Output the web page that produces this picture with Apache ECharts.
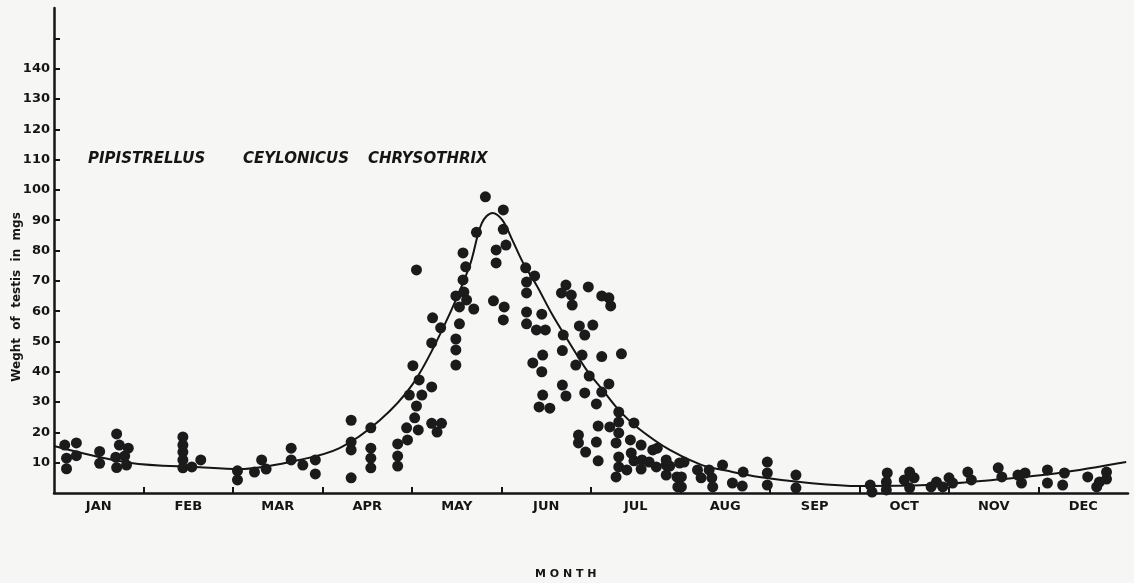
<!DOCTYPE html>
<html>
<head>
<meta charset="utf-8">
<script src="https://cdn.jsdelivr.net/npm/echarts@6/dist/echarts.min.js"></script>
<style>
  html, body { margin: 0; padding: 0; background: #f6f6f5; }
  #main { width: 1134px; height: 583px; }
</style>
</head>
<body>
<div id="main"></div>
<script>
// month labels (one per band on the x axis)
var months = ['JAN', 'FEB', 'MAR', 'APR', 'MAY', 'JUN', 'JUL', 'AUG', 'SEP', 'OCT', 'NOV', 'DEC'];

// fitted curve, x in months from 1 Jan (0..12), y = weight in mgs
var curveMonth  = [0, 0.84, 1.63, 2.07, 2.74, 3.19, 3.64, 4.01, 4.34, 4.64, 4.78, 4.9, 5.01, 5.12, 5.24, 5.39, 5.57, 5.76, 5.95, 6.13, 6.31, 6.51, 6.88, 7.24, 7.51, 7.88, 8.44, 9.0, 9.75, 10.49, 11.23, 11.98];
var curveWeight = [15.5, 10, 8.5, 7.9, 10.9, 14.8, 24, 36, 54, 74.6, 89, 92.4, 90, 83.5, 76, 68.6, 58.7, 49.5, 40.6, 34, 27.4, 21.8, 14.2, 9.2, 7.4, 5.3, 3.3, 2.3, 2.6, 4.3, 6.6, 10.2];

// individual specimens
var dotMonth = [
  // jan
  0.12, 0.14, 0.14, 0.25, 0.25, 0.51, 0.51, 0.70, 0.73, 0.83, 0.69, 0.79, 0.70, 0.81,
  // feb
  1.44, 1.44, 1.44, 1.44, 1.44, 1.54, 1.64,
  // mar
  2.05, 2.05, 2.24, 2.32, 2.37, 2.65, 2.65, 2.78, 2.92, 2.92,
  // apr
  3.32, 3.32, 3.32, 3.32, 3.54, 3.54, 3.54, 3.54, 3.84, 3.84, 3.84, 3.95, 3.94, 4.07,
  // may
  4.22, 4.49, 4.49, 4.49, 4.01, 4.08, 4.22, 3.97, 4.11, 4.05, 4.03, 4.22, 4.33, 4.28,
  4.05, 4.82, 5.02, 4.72, 5.02, 4.94, 5.05, 4.94, 4.57, 4.60, 4.57, 4.49, 4.58, 4.61,
  4.53, 4.69, 4.23, 4.32, 4.53, 4.91, 5.03, 5.02,
  // jun
  5.27, 5.37, 5.28, 5.28, 5.28, 5.45, 5.28, 5.39, 5.49, 5.69, 5.67, 5.72, 5.78, 5.79,
  5.97, 6.12, 6.20, 6.22, 5.87, 6.02, 5.93, 5.68,
  5.46, 5.35, 5.45, 5.90, 6.12, 6.34, 5.83, 5.98, 5.68, 5.72, 5.46, 5.42, 5.54, 5.93,
  6.12, 6.20, 6.06, 6.31, 6.31, 6.48, 6.08, 6.21, 6.31, 5.86, 5.86, 5.94, 6.06, 6.08,
  // jul
  6.28, 6.44, 6.56, 6.31, 6.45, 6.48, 6.57, 6.69, 6.74, 6.65, 6.73, 6.31, 6.28, 6.40,
  6.56, 6.84, 6.84, 6.96, 6.97,
  // aug
  6.84, 6.88, 6.99, 7.04, 7.01, 7.01, 7.19, 7.23, 7.32, 7.35, 7.36, 7.47, 7.58, 7.69,
  7.70, 7.97, 7.97, 7.97,
  // sep
  8.29, 8.29,
  // oct
  9.12, 9.14, 9.31, 9.30, 9.30, 9.50, 9.56, 9.61, 9.56, 9.80, 9.86, 9.93, 10.00, 10.04,
  10.21, 10.25,
  // nov
  10.55, 10.59, 10.77, 10.85, 10.81, 11.10, 11.10, 11.29, 11.27,
  // dec
  11.55, 11.68, 11.65, 11.76, 11.76
];
var dotWeight = [
  15.8, 11.5, 8.0, 16.5, 12.3, 13.7, 9.8, 19.5, 15.8, 14.8, 11.8, 12.2, 8.4, 9.2,
  18.5, 15.8, 13.5, 10.9, 8.3, 8.6, 10.9,
  7.3, 4.3, 6.9, 10.9, 7.9, 14.8, 10.9, 9.2, 10.9, 6.3,
  24, 16.8, 14.2, 5, 21.5, 14.8, 11.5, 8.3, 16.2, 12.2, 8.9, 17.5, 21.5, 20.8,
  49.5, 50.8, 47.2, 42.2, 42, 37.3, 35, 32.3, 32.3, 28.7, 24.8, 23, 23, 20.1,
  73.6, 97.7, 93.4, 86, 87, 80.2, 81.8, 75.9, 79.2, 74.6, 70.3, 65, 66.3, 63.7,
  61.4, 60.7, 57.8, 54.5, 55.8, 63.4, 61.4, 57.1,
  74.3, 71.6, 69.6, 66, 59.7, 59, 55.8, 53.8, 53.8, 52.1, 66, 68.6, 65.3, 62,
  68, 65, 64.4, 61.7, 55.1, 55.4, 52.1, 47,
  45.5, 42.9, 40, 45.5, 45, 45.9, 42.2, 38.6, 35.6, 32, 32.3, 28.4, 28, 33,
  33.3, 36, 29.4, 26.7, 23.4, 23.1, 22.1, 21.8, 19.8, 19.1, 16.5, 13.5, 16.8, 10.6,
  16.5, 17.5, 15.8, 11.9, 13.2, 10.6, 10.9, 14.2, 14.8, 10.2, 8.6, 8.6, 5.3, 7.6,
  7.9, 9.2, 5.9, 5.3, 2,
  10.9, 8.9, 9.9, 10.2, 5.3, 2, 7.6, 5, 7.6, 5, 2, 9.2, 3.3, 2.3,
  6.9, 10.2, 6.6, 2.6,
  5.9, 1.7,
  2.6, 0.3, 6.6, 3.6, 1, 4.3, 6.9, 5, 1.7, 2, 3.6, 2, 5, 3.3,
  6.9, 4.3,
  8.3, 5.3, 5.9, 6.6, 3.3, 7.6, 3.3, 6.6, 2.6,
  5.3, 3.6, 2, 6.9, 4.6
];

var yTickLabels = [10, 20, 30, 40, 50, 60, 70, 80, 90, 100, 110, 120, 130, 140];
var yTicks = [10, 20, 30, 40, 50, 60, 70, 80, 90, 100, 110, 120, 130, 140, 150];
var monthTicks = [1, 2, 3, 4, 5, 6, 7, 8, 9, 10, 11];

var ink = '#151515';
var font = 'DejaVu Sans';

var curveData = curveMonth.map(function (m, i) { return [m, curveWeight[i]]; });
var dotData = dotMonth.map(function (m, i) { return [m, dotWeight[i]]; });

var myChart = echarts.init(document.getElementById('main'));

var titleStyle = { fontFamily: font, fontSize: 15, fontWeight: 'bold', fontStyle: 'italic', color: ink };

var option = {
  backgroundColor: '#f6f6f5',
  animation: false,
  title: [
    { text: 'PIPISTRELLUS', left: 88, top: 152, padding: 0, textStyle: titleStyle },
    { text: 'CEYLONICUS', left: 243, top: 152, padding: 0, textStyle: titleStyle },
    { text: 'CHRYSOTHRIX', left: 368, top: 152, padding: 0, textStyle: titleStyle },
    { text: 'M O N T H', left: 535, top: 569, padding: 0,
      textStyle: { fontFamily: font, fontSize: 11, fontWeight: 'bold', color: ink } }
  ],
  graphic: [{
    type: 'text',
    x: 17, y: 297,
    rotation: Math.PI / 2,
    style: {
      text: 'Weght  of  testis  in  mgs',
      font: 'bold 12px "DejaVu Sans"',
      fill: ink,
      align: 'center',
      verticalAlign: 'middle'
    }
  }],
  grid: { left: 54, right: 6, top: 8, bottom: 90, containLabel: false },
  xAxis: [{
    type: 'value',
    min: 0, max: 12, interval: 1,
    axisLine: { lineStyle: { color: ink, width: 2.5 } },
    axisTick: { inside: true, length: 6, customValues: monthTicks, lineStyle: { color: ink, width: 2 } },
    axisLabel: { show: false },
    splitLine: { show: false }
  }, {
    type: 'category',
    data: months,
    position: 'bottom',
    boundaryGap: true,
    axisLine: { show: false },
    axisTick: { show: false },
    axisLabel: { margin: 7, fontFamily: font, fontSize: 13, fontWeight: 'bold', color: ink },
    splitLine: { show: false }
  }],
  yAxis: {
    type: 'value',
    min: 0, max: 160, interval: 10,
    axisLine: { show: true, lineStyle: { color: ink, width: 2.5 } },
    axisTick: { show: true, inside: true, length: 6, customValues: yTicks, lineStyle: { color: ink, width: 2 } },
    axisLabel: {
      margin: 4, fontFamily: font, fontSize: 13, fontWeight: 'bold', color: ink,
      customValues: yTickLabels,
      formatter: function (v) { return yTickLabels.indexOf(v) >= 0 ? String(v) : ''; }
    },
    splitLine: { show: false }
  },
  series: [{
    name: 'curve',
    type: 'line',
    xAxisIndex: 0,
    data: curveData,
    smooth: 0.35,
    symbol: 'none',
    lineStyle: { color: ink, width: 2 },
    z: 2
  }, {
    name: 'testis',
    type: 'scatter',
    xAxisIndex: 0,
    data: dotData,
    symbolSize: 11,
    itemStyle: { color: '#1b1b1b', opacity: 1 },
    z: 3
  }]
};

myChart.setOption(option);
</script>
</body>
</html>
